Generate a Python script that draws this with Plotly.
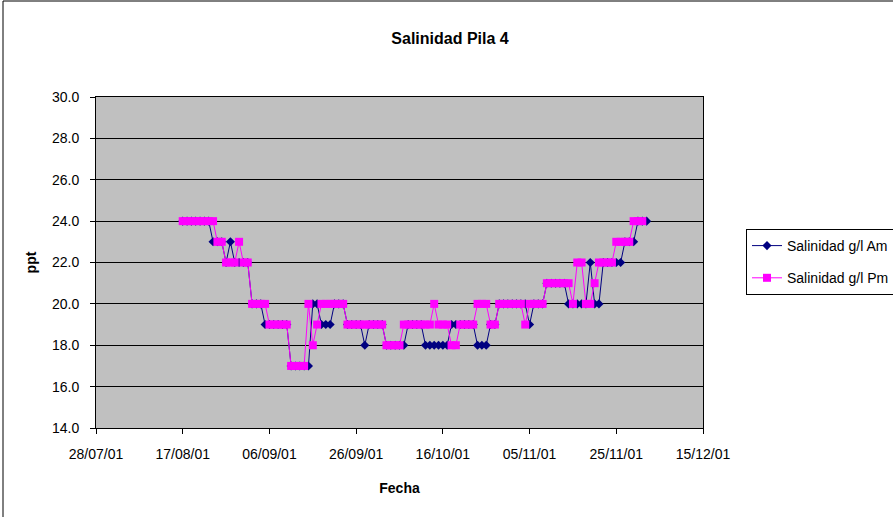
import pandas as pd
import plotly.graph_objects as go

start_date = "2001-08-17"
n_days = 108
fechas = pd.date_range(start_date, periods=n_days, freq="D")

sal_am = ([24]*7 + [23]*3 + [22] + [23] + [22]*4 + [20]*3 + [19]*6 + [17]*5 +
          [20]*2 + [19]*3 + [20]*3 + [19]*4 + [18] + [19]*4 + [18]*5 + [19]*4 +
          [18]*6 + [19]*6 + [18]*3 + [19]*2 + [20]*7 + [19] + [20]*3 + [21]*5 +
          [20]*5 + [22] + [20]*2 + [22]*5 + [23]*3 + [24]*3)

sal_pm = ([24]*8 + [23]*2 + [22]*3 + [23] + [22]*2 + [20]*4 + [19]*5 + [17]*4 +
          [20] + [18] + [19] + [20]*6 + [19]*9 + [18]*4 + [19]*7 + [20] + [19]*3 +
          [18]*2 + [19]*4 + [20]*3 + [19]*2 + [20]*6 + [19] + [20]*4 + [21]*6 +
          [20] + [22]*2 + [20]*2 + [21] + [22]*4 + [23]*4 + [24]*3 + [None])

x_range = ["2001-07-28", "2001-12-15"]
y_range = [14, 30]

FONT = "Liberation Sans, Arial"

fig = go.Figure()
fig.add_trace(go.Scatter(
    x=fechas, y=sal_am, name="Salinidad g/l Am", mode="lines+markers",
    line=dict(color="#000080", width=1),
    marker=dict(symbol="diamond", size=7, color="#000080"),
    legendgroup="a"))
fig.add_trace(go.Scatter(
    x=fechas, y=sal_pm, name="Salinidad g/l Pm", mode="lines+markers",
    line=dict(color="#FF00FF", width=1),
    marker=dict(symbol="square", size=8, color="#FF00FF"),
    legendgroup="b", connectgaps=False))

L, R, T, B = 96, 190, 97, 89
W, H = 893, 517
pw, ph = W - L - R, H - T - B

def px_x(p):
    return (p - L) / pw

def px_y(p):
    return (H - B - p) / ph

fig.update_layout(
    width=W, height=H,
    margin=dict(l=L, r=R, t=T, b=B, autoexpand=False),
    paper_bgcolor="white",
    plot_bgcolor="#C0C0C0",
    font=dict(family=FONT, size=14, color="black"),
    title=dict(text="<b>Salinidad Pila 4</b>", x=450 / W, xanchor="center",
               y=1 - 38 / H, yanchor="middle",
               font=dict(family=FONT, size=16)),
    showlegend=True,
    legend=dict(x=px_x(746), y=px_y(229), xanchor="left", yanchor="top",
                bgcolor="white", bordercolor="black", borderwidth=1,
                font=dict(family=FONT, size=14), tracegroupgap=11,
                itemwidth=30),
    xaxis=dict(
        type="date", range=x_range, automargin=False,
        tick0="2001-07-28", dtick=20 * 86400000, tickformat="%d/%m/%y",
        ticks="outside", ticklen=5, tickcolor="black", ticklabelstandoff=8,
        showgrid=False, showline=True, linecolor="black", linewidth=1,
        mirror=True, zeroline=False,
        title=dict(text="<b>Fecha</b>", standoff=22,
                   font=dict(family=FONT, size=14)),
    ),
    yaxis=dict(
        range=y_range, dtick=2, tick0=14, tickformat=".1f", automargin=False,
        ticks="outside", ticklen=5, tickcolor="black", ticklabelstandoff=8,
        showgrid=True, gridcolor="black", gridwidth=1,
        showline=True, linecolor="black", linewidth=1, mirror=True,
        zeroline=False,
        title=dict(text="<b>ppt</b>", standoff=12,
                   font=dict(family=FONT, size=14)),
    ),
    shapes=[dict(type="rect", xref="paper", yref="paper",
                 x0=px_x(3), x1=px_x(W + 20), y0=px_y(W), y1=px_y(1),
                 line=dict(color="black", width=1), fillcolor="rgba(0,0,0,0)",
                 layer="below")],
)

fig.write_html("out.html", config={"displayModeBar": False},
               post_script="document.body.style.margin='0px';")
